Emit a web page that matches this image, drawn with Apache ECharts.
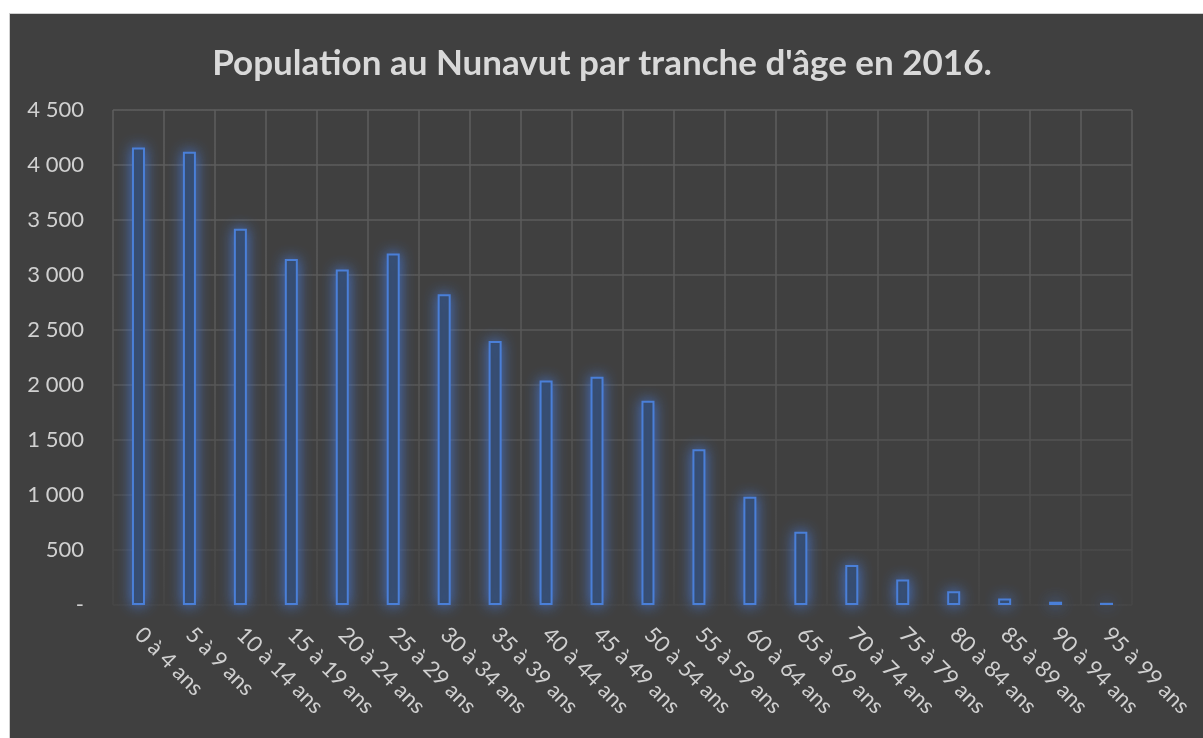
<!DOCTYPE html>
<html>
<head>
<meta charset="utf-8">
<script src="https://cdn.jsdelivr.net/npm/echarts@6/dist/echarts.min.js"></script>
<style>
  html, body { margin: 0; padding: 0; background: #ffffff; }
  .panel {
    position: absolute; left: 9px; top: 13px; right: 0; bottom: 0;
    background: #404040; border-left: 1px solid #cfcfcf; border-top: 1px solid #cfcfcf;
  }
  #chart { position: absolute; left: 0; top: 0; width: 1203px; height: 738px; }
</style>
</head>
<body>
<div class="panel"></div>
<div id="chart"></div>
<script>
  // tranches d'âge
  const categories = [
    "0 à 4 ans", "5 à 9 ans", "10 à 14 ans", "15 à 19 ans", "20 à 24 ans",
    "25 à 29 ans", "30 à 34 ans", "35 à 39 ans", "40 à 44 ans", "45 à 49 ans",
    "50 à 54 ans", "55 à 59 ans", "60 à 64 ans", "65 à 69 ans", "70 à 74 ans",
    "75 à 79 ans", "80 à 84 ans", "85 à 89 ans", "90 à 94 ans", "95 à 99 ans"
  ];
  // population
  const population = [
    4160, 4120, 3420, 3145, 3050, 3195, 2825, 2400, 2040, 2075,
    1857, 1415, 985, 667, 364, 232, 125, 60, 30, 20
  ];
  const yMax = 4500;
  const yStep = 500;

  const fmt = (v) => {
    if (v === 0) return "-";
    return String(v).replace(/\B(?=(\d{3})+(?!\d))/g, " ");
  };

  // gridlines fade towards the bottom
  const gridColor = {
    type: "linear", x: 0, y: 110, x2: 0, y2: 605, global: true,
    colorStops: [
      { offset: 0, color: "#5e5e5e" },
      { offset: 0.55, color: "#575757" },
      { offset: 1, color: "#464646" }
    ]
  };

  const myChart = echarts.init(document.getElementById("chart"));
  let option = {
    backgroundColor: "transparent",
    textStyle: { fontFamily: "Lato" },
    title: {
      text: "Population au Nunavut par tranche d'âge en 2016.",
      left: 597,
      top: 41,
      textAlign: "center",
      textStyle: { color: "#d9d9d9", fontSize: 35, fontWeight: "bold", fontFamily: "Lato" }
    },
    grid: { left: 113, top: 110, width: 1019, bottom: 133, containLabel: false },
    xAxis: {
      type: "category",
      data: categories,
      axisLine: { show: false },
      axisTick: { show: false },
      splitLine: { show: true, lineStyle: { color: gridColor, width: 1.5 } },
      axisLabel: {
        rotate: -45,
        interval: 0,
        margin: 26,
        color: "#d0d0d0",
        fontSize: 22,
        fontFamily: "Lato"
      }
    },
    yAxis: {
      type: "value",
      min: 0,
      max: yMax,
      interval: yStep,
      axisLine: { show: false },
      axisTick: { show: false },
      splitLine: { lineStyle: { color: gridColor, width: 1.5 } },
      axisLabel: {
        margin: 29,
        color: "#d0d0d0",
        fontSize: 22,
        fontFamily: "Lato",
        formatter: fmt
      }
    },
    series: [
      {
        type: "bar",
        data: population,
        barWidth: 13,
        itemStyle: {
          color: "#33455f",
          borderColor: "#4a7fd8",
          borderWidth: 2,
          shadowBlur: 14,
          shadowColor: "rgba(70,120,215,0.9)"
        }
      }
    ]
  };

  option && myChart.setOption(option);
</script>
</body>
</html>
